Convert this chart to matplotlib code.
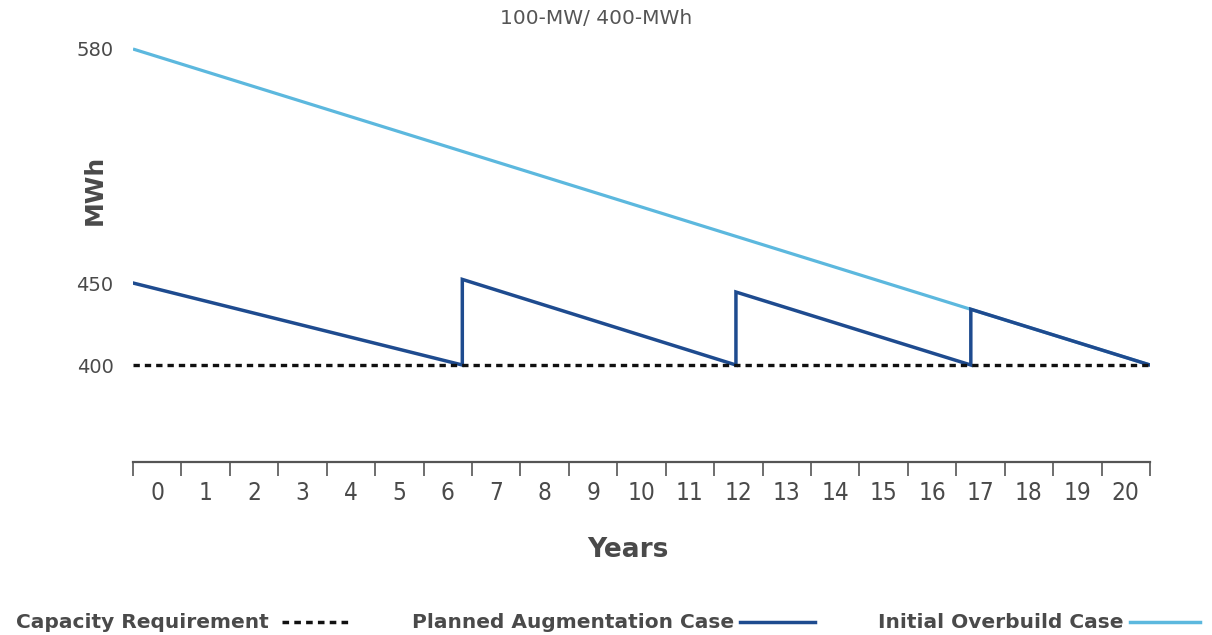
import matplotlib
matplotlib.use("Agg")
import matplotlib.pyplot as plt
import numpy as np
from matplotlib.lines import Line2D

# data (schematic chart)
years = list(range(0, 21))
requirement_x = [-0.5, 20.5]
requirement_y = [400, 400]

augment_x = [-0.5, 6.3, 6.3, 11.95, 11.95, 16.8, 16.8, 20.5]
augment_y = [450, 400, 452, 400, 444.5, 400, 434, 400]

overbuild_x = [-0.5, 20.5]
overbuild_y = [580, 400]

y_ticks = [400, 450, 580]

# the y axis in the picture is not drawn to scale, so use a piecewise scale
knots_data = np.array([200.0, 400.0, 450.0, 580.0, 800.0])
knots_disp = np.array([-328.0, 0.0, 82.0, 316.0, 712.0])


def forward(v):
    return np.interp(v, knots_data, knots_disp)


def inverse(v):
    return np.interp(v, knots_disp, knots_data)


dark_blue = "#1e4b8f"
light_blue = "#5cb8de"
grey = "#4a4a4a"
font = ["DejaVu Sans"]
dash = (0, (1.9, 1.5))

fig = plt.figure(figsize=(12.12, 6.35), dpi=100)
ax = fig.add_axes([133 / 1212, 173 / 635, 1017 / 1212, 432 / 635])
ax.set_yscale("function", functions=(forward, inverse))

ax.plot(overbuild_x, overbuild_y, color=light_blue, linewidth=2.3,
        solid_capstyle="butt", zorder=2)
ax.plot(augment_x, augment_y, color=dark_blue, linewidth=2.5,
        solid_joinstyle="miter", zorder=3)
ax.plot(requirement_x, requirement_y, color="#111111", linewidth=2.4,
        linestyle=dash, zorder=4, clip_on=False)

ax.set_xlim(-0.5, 20.5)
ax.set_ylim(inverse(-97), inverse(335))

ax.set_xticks(np.arange(-0.5, 21, 1.0))
ax.set_xticklabels([])
ax.set_xticks(years, minor=True)
ax.set_xticklabels([str(y) for y in years], minor=True)
ax.tick_params(axis="x", which="major", direction="out", length=10,
               width=1.2, color="#555555")
ax.tick_params(axis="x", which="minor", length=0, pad=14, labelsize=17.5,
               labelcolor=grey)
for lab in ax.get_xticklabels(minor=True):
    lab.set_family("DejaVu Sans")
    lab.set_fontstretch("condensed")

ax.set_yticks(y_ticks)
ax.set_yticklabels([str(v) for v in y_ticks])
ax.yaxis.set_minor_locator(plt.NullLocator())
ax.tick_params(axis="y", length=0, pad=14, labelsize=14, labelcolor=grey)
for lab in ax.get_yticklabels():
    lab.set_family(font)

for side in ["top", "right", "left"]:
    ax.spines[side].set_visible(False)
ax.spines["bottom"].set_color("#555555")
ax.spines["bottom"].set_linewidth(1.6)

fig.text(628 / 1212, 1 - 550 / 635, "Years", ha="center", va="center",
         fontsize=19, fontweight="bold", color=grey, family=font)
fig.text(95 / 1212, 1 - 190 / 635, "MWh", ha="center", va="center",
         rotation=90, fontsize=18, fontweight="bold", color=grey,
         family=font)

fig.text(596 / 1212, 1 - 18 / 635, "100-MW/ 400-MWh", ha="center",
         va="center", fontsize=14.5, color="#555555", family=font)

# legend row along the bottom
legend_y = 1 - 622 / 635
entries = [
    ("Capacity Requirement", 16, 282, 350, "#111111", dash),
    ("Planned Augmentation Case", 412, 740, 815, dark_blue, "-"),
    ("Initial Overbuild Case", 878, 1130, 1200, light_blue, "-"),
]
for label, tx, x0, x1, col, ls in entries:
    fig.text(tx / 1212, legend_y, label, ha="left", va="center",
             fontsize=14.5, fontweight="bold", color=grey, family=font)
    fig.add_artist(Line2D([x0 / 1212, x1 / 1212], [legend_y, legend_y],
                          transform=fig.transFigure, color=col,
                          linewidth=2.5, linestyle=ls))

fig.savefig("out.png", dpi=100)
plt.close(fig)
